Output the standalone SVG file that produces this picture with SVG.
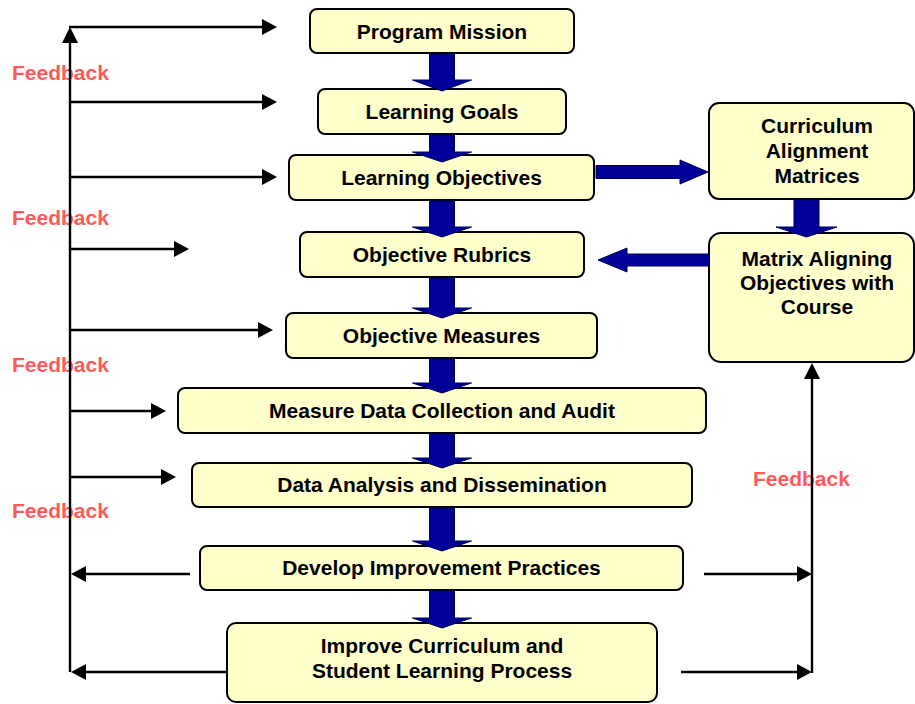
<svg xmlns="http://www.w3.org/2000/svg" width="915" height="704" viewBox="0 0 915 704">
  <style>
    .box { fill: #ffffcc; stroke: #000; stroke-width: 2; }
    .lbl { font-family: "Liberation Sans", Arial, sans-serif; font-weight: bold; font-size: 21px; fill: #000; text-anchor: middle; }
    .fb { font-family: "Liberation Sans", Arial, sans-serif; font-weight: bold; font-size: 21px; fill: #ff5a5a; }
    .line { fill: none; stroke: #000; stroke-width: 2.4; }
    .arr { marker-end: url(#tip); }
    .block { fill: #000099; stroke: #00005a; stroke-width: 1; }
  </style>
  <defs>
    <marker id="tip" viewBox="0 0 15 16" refX="11" refY="8" markerWidth="15" markerHeight="16" markerUnits="userSpaceOnUse" orient="auto">
      <path d="M0,0 L15,8 L0,16 z" fill="#000"/>
    </marker>
  </defs>

  <rect width="915" height="704" fill="#fff"/>

  <!-- process steps -->
  <g id="program-mission">
    <rect class="box" x="310" y="9" width="264" height="44" rx="7"/>
    <text class="lbl" x="442" y="38.5">Program Mission</text>
  </g>
  <g id="learning-goals">
    <rect class="box" x="318" y="89" width="248" height="45" rx="7"/>
    <text class="lbl" x="442" y="119">Learning Goals</text>
  </g>
  <g id="learning-objectives">
    <rect class="box" x="289" y="155" width="305" height="45" rx="7"/>
    <text class="lbl" x="441.5" y="185">Learning Objectives</text>
  </g>
  <g id="objective-rubrics">
    <rect class="box" x="300" y="232" width="284" height="45" rx="7"/>
    <text class="lbl" x="442" y="262">Objective Rubrics</text>
  </g>
  <g id="objective-measures">
    <rect class="box" x="286" y="313" width="311" height="45" rx="7"/>
    <text class="lbl" x="441.5" y="343">Objective Measures</text>
  </g>
  <g id="measure-data">
    <rect class="box" x="178" y="388" width="528" height="45" rx="7"/>
    <text class="lbl" x="442" y="418">Measure Data Collection and Audit</text>
  </g>
  <g id="data-analysis">
    <rect class="box" x="192" y="463" width="500" height="44" rx="7"/>
    <text class="lbl" x="442" y="492">Data Analysis and Dissemination</text>
  </g>
  <g id="develop-improvement">
    <rect class="box" x="200" y="546" width="483" height="44" rx="7"/>
    <text class="lbl" x="441.5" y="575">Develop Improvement Practices</text>
  </g>
  <g id="improve-curriculum">
    <rect class="box" x="227" y="623" width="430" height="79" rx="9"/>
    <text class="lbl" x="442" y="653">Improve Curriculum and</text>
    <text class="lbl" x="442" y="678">Student Learning Process</text>
  </g>
  <g id="curriculum-alignment">
    <rect class="box" x="709" y="103" width="205" height="96" rx="10"/>
    <text class="lbl" x="817" y="133">Curriculum</text>
    <text class="lbl" x="817" y="158">Alignment</text>
    <text class="lbl" x="817" y="183">Matrices</text>
  </g>
  <g id="matrix-aligning">
    <rect class="box" x="709" y="233" width="205" height="129" rx="12"/>
    <text class="lbl" x="817" y="266">Matrix Aligning</text>
    <text class="lbl" x="817" y="290">Objectives with</text>
    <text class="lbl" x="817" y="314">Course</text>
  </g>

  <!-- connectors -->
  <g id="connectors">
    <!-- loop labels sit under the loop lines -->
    <text class="fb" x="12" y="80">Feedback</text>
    <text class="fb" x="12" y="225">Feedback</text>
    <text class="fb" x="12" y="372">Feedback</text>
    <text class="fb" x="12" y="518">Feedback</text>
    <text class="fb" x="753" y="486">Feedback</text>

    <!-- main flow: block arrows -->
    <polygon class="block" points="429.5,54 454.5,54 454.5,80 471.5,80 442,91 412.5,80 429.5,80"/>
    <polygon class="block" points="429.5,135 454.5,135 454.5,152 471.5,152 442,162 412.5,152 429.5,152"/>
    <polygon class="block" points="429.5,201 454.5,201 454.5,227 471.5,227 442,237 412.5,227 429.5,227"/>
    <polygon class="block" points="429.5,278 454.5,278 454.5,308 471.5,308 442,318 412.5,308 429.5,308"/>
    <polygon class="block" points="429.5,359 454.5,359 454.5,383 471.5,383 442,393 412.5,383 429.5,383"/>
    <polygon class="block" points="429.5,434 454.5,434 454.5,458 471.5,458 442,468 412.5,458 429.5,458"/>
    <polygon class="block" points="429.5,508 454.5,508 454.5,541 471.5,541 442,551 412.5,541 429.5,541"/>
    <polygon class="block" points="429.5,591 454.5,591 454.5,618 471.5,618 442,628 412.5,618 429.5,618"/>
    <!-- side branch -->
    <polygon class="block" points="596,165.5 680,165.5 680,160 708,172 680,184 680,178.5 596,178.5"/>
    <polygon class="block" points="794,200 819,200 819,227 837,227 806.5,237 776,227 794,227"/>
    <polygon class="block" points="709,254 627,254 627,248 598,260 627,272 627,266 709,266"/>

    <!-- left feedback loop -->
    <line class="line" x1="70" y1="672" x2="70" y2="38"/>
    <path d="M70,27 L62,43 L78,43 z" fill="#000"/>
    <line class="line arr" x1="69" y1="27" x2="273" y2="27"/>
    <line class="line arr" x1="70" y1="102" x2="273" y2="102"/>
    <line class="line arr" x1="70" y1="177" x2="273" y2="177"/>
    <line class="line arr" x1="70" y1="249" x2="185" y2="249"/>
    <line class="line arr" x1="70" y1="330" x2="269" y2="330"/>
    <line class="line arr" x1="70" y1="411" x2="162" y2="411"/>
    <line class="line arr" x1="70" y1="477" x2="172" y2="477"/>
    <line class="line arr" x1="190" y1="574" x2="75" y2="574"/>
    <line class="line arr" x1="227" y1="672" x2="75" y2="672"/>

    <!-- right feedback loop -->
    <line class="line" x1="812" y1="673" x2="812" y2="372"/>
    <path d="M812,363 L804,379 L820,379 z" fill="#000"/>
    <line class="line arr" x1="704" y1="574" x2="808" y2="574"/>
    <line class="line arr" x1="681" y1="672" x2="808" y2="672"/>
  </g>
</svg>
